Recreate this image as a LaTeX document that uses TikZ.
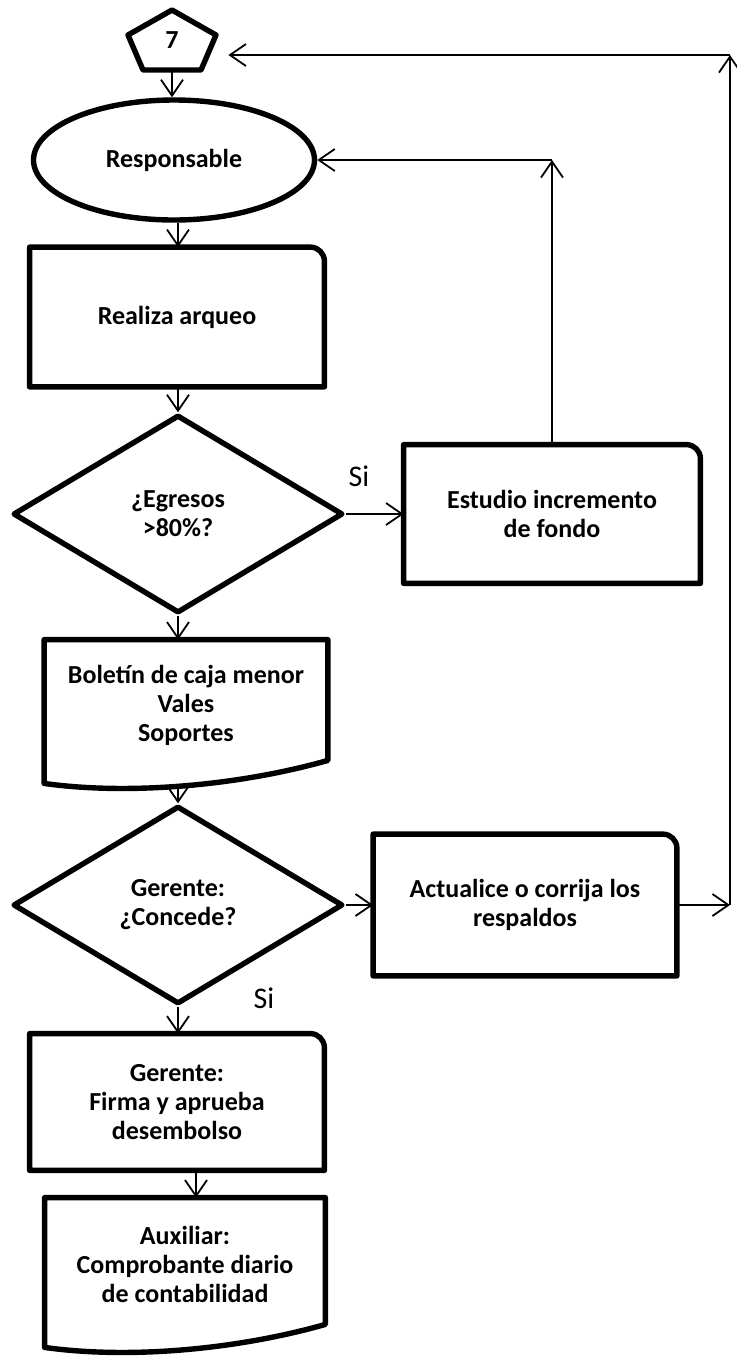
\documentclass[tikz,border=0pt]{standalone}
\usepackage{fontspec}
\setmainfont{Carlito}
\usepackage{tikz}
\usetikzlibrary{shapes.geometric,arrows.meta,calc}

\tikzset{
  caja/.style={minimum width=147pt, minimum height=69pt, inner sep=0pt, align=center, font=\bfseries\fontsize{13}{14.5}\selectfont},
  borde/.style={line width=2.7pt, line join=round},
  rombo/.style={diamond, draw, borde, caja, minimum width=165pt, minimum height=99pt},
  flecha/.style={-{Straight Barb[length=8pt,width=11pt]}, line width=0.9pt},
  si/.style={font=\fontsize{15}{17}\selectfont}
}

\begin{document}
\begin{tikzpicture}[x=0.5pt,y=-0.5pt]
    \useasboundingbox (0,0) rectangle (736,1357);

    % conector 7
    \draw[borde] (172,10) -- (216,35) -- (201,70) -- (143,70) -- (128,35) -- cycle;
    \node[caja, minimum width=44pt, minimum height=30pt] (conector) at (172,40) {7};

    % Responsable
    \node[ellipse, draw, borde, caja, minimum width=140.5pt, minimum height=60pt] (resp) at (174,160) {Responsable};

    % Realiza arqueo
    \node[caja, minimum height=69.5pt] (arqueo) at (177,317) {Realiza arqueo};
    \draw[borde] (arqueo.south west) -- (arqueo.north west) -- ([xshift=-7pt]arqueo.north east) arc[start angle=90,end angle=0,radius=7pt] -- (arqueo.south east) -- cycle;

    % Egresos > 80%
    \node[rombo] (egresos) at (178,514) {¿Egresos\\>80\%?};
    \node[si] (si1) at (359,476) {Si};

    % Estudio incremento
    \node[caja, minimum width=148pt] (estudio) at (552,514) {Estudio incremento\\de fondo};
    \draw[borde] (estudio.south west) -- (estudio.north west) -- ([xshift=-7pt]estudio.north east) arc[start angle=90,end angle=0,radius=7pt] -- (estudio.south east) -- cycle;

    % Boletin (documento)
    \node[caja, minimum width=141.5pt, minimum height=65pt] (boletin) at (186,705) {Boletín de caja menor\\Vales\\Soportes};
    \draw[borde] (boletin.north west) -- (boletin.north east) -- ($(boletin.south east)+(0,-10)$) .. controls +(-88,25) and +(85,12) .. ($(boletin.south west)+(0,13)$) -- cycle;

    % Gerente concede
    \node[rombo] (concede) at (178,905) {Gerente:\\¿Concede?};
    \node[si] (si2) at (264,998) {Si};

    % Actualice
    \node[caja, minimum width=151.5pt, minimum height=70.5pt] (actualice) at (525,905) {Actualice o corrija los\\respaldos};
    \draw[borde] (actualice.south west) -- (actualice.north west) -- ([xshift=-7pt]actualice.north east) arc[start angle=90,end angle=0,radius=7pt] -- (actualice.south east) -- cycle;

    % Firma
    \node[caja, minimum height=68pt] (firma) at (177,1102) {Gerente:\\Firma y aprueba\\desembolso};
    \draw[borde] (firma.south west) -- (firma.north west) -- ([xshift=-7pt]firma.north east) arc[start angle=90,end angle=0,radius=7pt] -- (firma.south east) -- cycle;

    % Auxiliar (documento)
    \node[caja, minimum width=140pt, minimum height=66pt] (auxiliar) at (185,1264) {Auxiliar:\\Comprobante diario\\de contabilidad};
    \draw[borde] (auxiliar.north west) -- (auxiliar.north east) -- ($(auxiliar.south east)+(0,-6)$) .. controls +(-88,25) and +(85,12) .. ($(auxiliar.south west)+(0,17)$) -- cycle;

    % flujo principal
    \draw[flecha] (conector.south) -- (conector.south |- resp.north);
    \draw[flecha] (resp.south -| egresos) -- (arqueo.north -| egresos);
    \draw[flecha] (arqueo.south -| egresos) -- (egresos.north);
    \draw[flecha] (egresos.south) -- (egresos.south |- boletin.north);
    \draw[flecha] ($(boletin.south -| concede)+(0,16)$) -- (concede.north);
    \draw[flecha] (concede.south) -- (concede.south |- firma.north);
    \draw[flecha] ($(firma.south)+(19,0)$) -- ($(auxiliar.north)+(11,0)$);

    % ramas
    \draw[flecha] (egresos.east) -- (estudio.west);
    \draw[flecha] (concede.east) -- (actualice.west);

    % retorno a Responsable
    \coordinate (esqA) at (estudio.north |- resp.east);
    \draw[flecha] (estudio.north) -- (esqA);
    \draw[flecha] (esqA) -- (resp.east);

    % retorno al conector 7
    \coordinate (esqB) at (730,905);
    \coordinate (esqC) at (730,55);
    \draw[flecha] (actualice.east) -- (esqB);
    \draw[flecha] (esqB) -- (esqC);
    \draw[flecha] (esqC) -- ($(esqC -| conector.east)+(12,0)$);
\end{tikzpicture}
\end{document}
